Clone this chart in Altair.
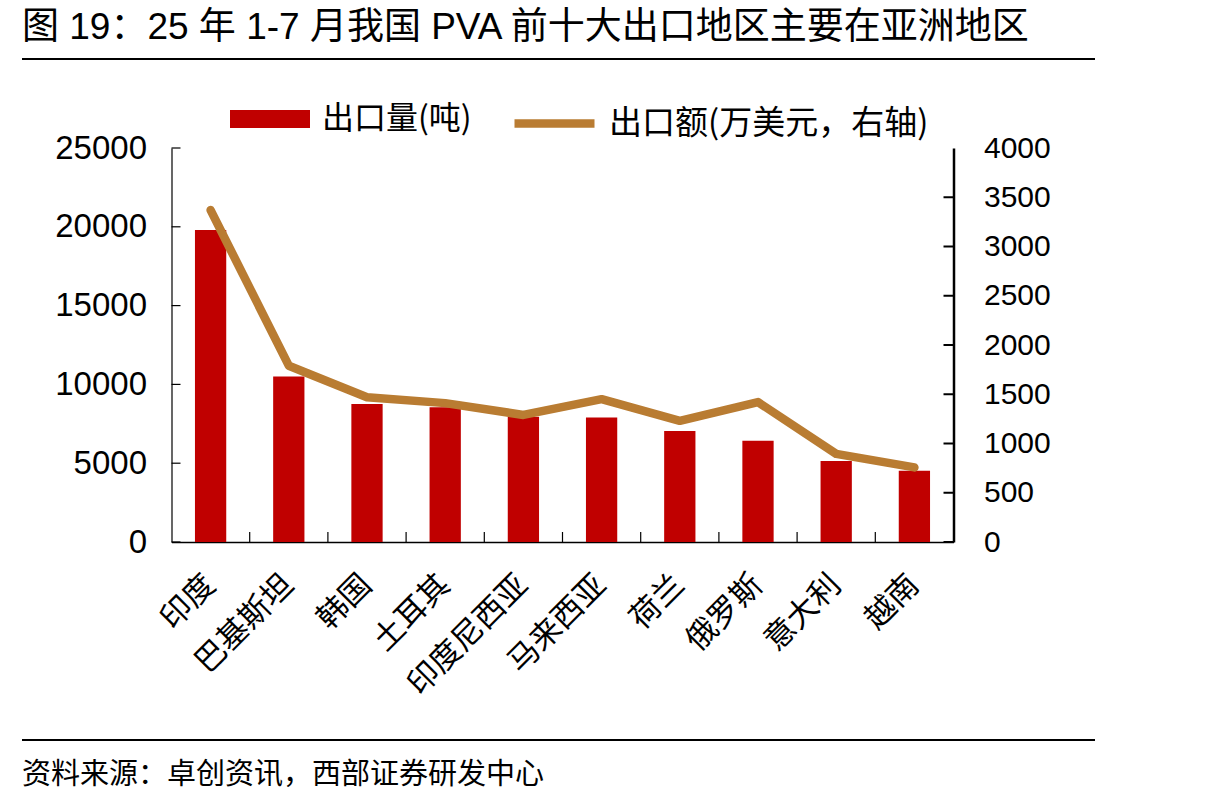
import altair as alt
import pandas as pd

# Categories and series
regions = ["印度", "巴基斯坦", "韩国", "土耳其", "印度尼西亚", "马来西亚", "荷兰", "俄罗斯", "意大利", "越南"]
volume_t = [19800, 10500, 8750, 8550, 7950, 7900, 7050, 6430, 5140, 4520]
value_10k_usd = [3370, 1790, 1470, 1410, 1290, 1450, 1230, 1420, 895, 757]

left_ticks = [0, 5000, 10000, 15000, 20000, 25000]
right_ticks = [0, 500, 1000, 1500, 2000, 2500, 3000, 3500]

title_text = "图 19：25 年 1-7 月我国 PVA 前十大出口地区主要在亚洲地区"
source_text = "资料来源：卓创资讯，西部证券研发中心"
vol_name = "出口量(吨)"
val_name = "出口额(万美元，右轴)"

BAR_RED = "#C00000"
LINE_GOLD = "#B97C32"
FONT = "Liberation Sans, Noto Sans CJK SC"
CJK = "Noto Sans CJK SC, Liberation Sans"

W, H = 782, 394
PAD_L, PAD_T = 171.5, 148

df = pd.DataFrame({"region": regions, "vol": volume_t, "val": value_10k_usd,
                   "vs": vol_name, "ls": val_name})

x_enc = alt.X("region:N", sort=regions, title=None,
              scale=alt.Scale(paddingInner=0, paddingOuter=0),
              axis=alt.Axis(labelAngle=-45, labelAlign="right", labelBaseline="middle",
                            labelFont=CJK, labelFontSize=31, labelColor="black",
                            labelPadding=38, labelOffset=0, tickSize=0,
                            domainColor="black", domainWidth=1.5))

bars = alt.Chart(df).mark_bar(width=alt.RelativeBandSize(0.4)).encode(
    x=x_enc,
    y=alt.Y("vol:Q", title=None,
            scale=alt.Scale(domain=[0, 25000], nice=False),
            axis=alt.Axis(orient="left", values=left_ticks, format="d", tickSize=0, grid=False,
                          labelFont=FONT, labelFontSize=33, labelColor="black",
                          labelPadding=25, domainColor="black", domainWidth=1.2)),
    fill=alt.Fill("vs:N", title=None,
                  scale=alt.Scale(domain=[vol_name], range=[BAR_RED]),
                  legend=alt.Legend(orient="none", legendX=58.5, legendY=-69, padding=0,
                                    symbolType="M-1,-0.225H1V0.225H-1Z", symbolSize=6400,
                                    symbolStrokeWidth=0, labelOffset=12, labelLimit=0,
                                    labelFont=CJK, labelFontSize=32, labelColor="black")),
)

line = alt.Chart(df).mark_line(strokeWidth=8.5, strokeCap="round", strokeJoin="round").encode(
    x=alt.X("region:N", sort=regions),
    y=alt.Y("val:Q", title=None,
            scale=alt.Scale(domain=[0, 4000], nice=False),
            axis=alt.Axis(orient="right", values=right_ticks + [4000], format="d", tickSize=0,
                          grid=False, labelFont=FONT, labelFontSize=30, labelColor="black",
                          labelPadding=30, domainColor="black", domainWidth=2.5)),
    stroke=alt.Stroke("ls:N", title=None,
                      scale=alt.Scale(domain=[val_name], range=[LINE_GOLD]),
                      legend=alt.Legend(orient="none", legendX=338.5, legendY=-69, padding=0,
                                        symbolType="stroke", symbolSize=6400,
                                        symbolStrokeWidth=8.5, labelOffset=10, labelLimit=0,
                                        labelFont=CJK, labelFontSize=33, labelColor="black")),
)

# inward tick marks on the three axes
lt = pd.DataFrame({"v": left_ticks})
left_tick_marks = alt.Chart(lt).mark_rule(color="black", strokeWidth=1.2).encode(
    y=alt.Y("v:Q", scale=alt.Scale(domain=[0, 25000], nice=False), axis=None),
    x=alt.value(0), x2=alt.value(9))

rt = pd.DataFrame({"v": right_ticks})
right_tick_marks = alt.Chart(rt).mark_rule(color="black", strokeWidth=2).encode(
    y=alt.Y("v:Q", scale=alt.Scale(domain=[0, 4000], nice=False), axis=None),
    x=alt.value(W - 10), x2=alt.value(W))

bt = pd.DataFrame({"region": regions[1:]})
bottom_tick_marks = alt.Chart(bt).mark_rule(color="black", strokeWidth=1.2).encode(
    x=alt.X("region:N", sort=regions, bandPosition=0),
    y=alt.value(H - 10), y2=alt.value(H))

# page furniture: heading, rules and source line
head = alt.Chart(pd.DataFrame({"t": [title_text]})).mark_text(
    align="left", baseline="middle", font=FONT, fontSize=37, color="black").encode(
    text="t:N", x=alt.value(22 - PAD_L), y=alt.value(28 - PAD_T))

top_rule = alt.Chart(pd.DataFrame({"k": [0]})).mark_rule(color="black", strokeWidth=2).encode(
    x=alt.value(22 - PAD_L), x2=alt.value(1095 - PAD_L), y=alt.value(59 - PAD_T))

bottom_rule = alt.Chart(pd.DataFrame({"k": [0]})).mark_rule(color="black", strokeWidth=2).encode(
    x=alt.value(22 - PAD_L), x2=alt.value(1095 - PAD_L), y=alt.value(740 - PAD_T))

source = alt.Chart(pd.DataFrame({"t": [source_text]})).mark_text(
    align="left", baseline="middle", font=CJK, fontSize=29, color="black").encode(
    text="t:N", x=alt.value(22 - PAD_L), y=alt.value(775 - PAD_T))

chart = alt.layer(
    bars, line, left_tick_marks, right_tick_marks, bottom_tick_marks,
    head, top_rule, bottom_rule, source,
).resolve_scale(
    y="independent", fill="independent", stroke="independent"
).properties(
    width=W, height=H,
    autosize=alt.AutoSizeParams(type="none"),
    padding={"left": PAD_L, "top": PAD_T, "right": 1215 - PAD_L - W, "bottom": 806 - PAD_T - H},
    background="white",
).configure_view(stroke=None)

chart.save("out.html", embed_options={"renderer": "svg", "actions": False})
